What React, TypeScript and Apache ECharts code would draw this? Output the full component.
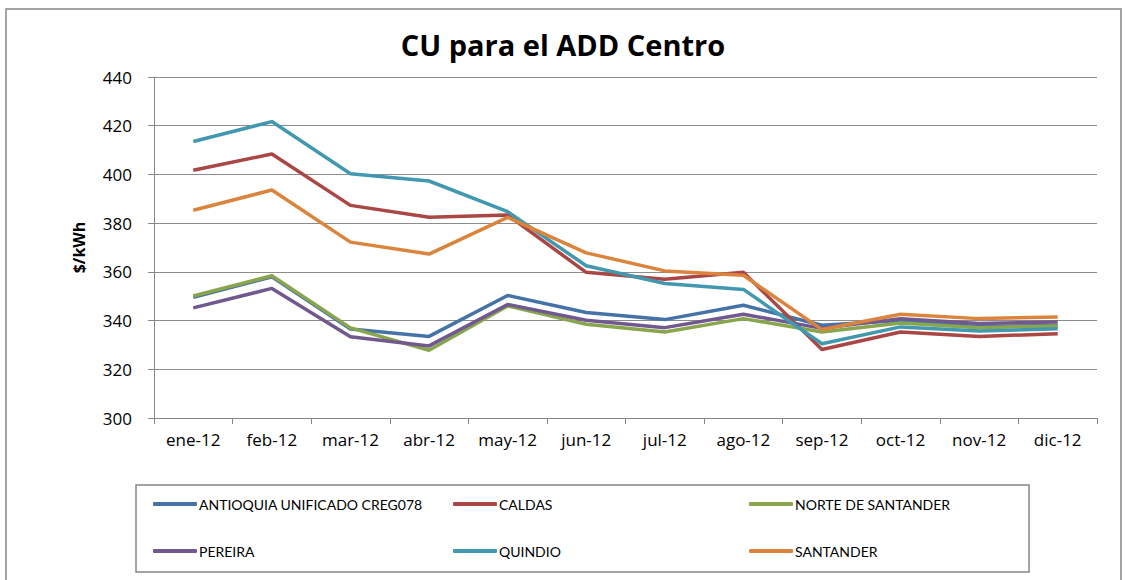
import React, { useEffect, useRef } from "react";
import * as echarts from "echarts";

const categories = ["ene-12", "feb-12", "mar-12", "abr-12", "may-12", "jun-12", "jul-12", "ago-12", "sep-12", "oct-12", "nov-12", "dic-12"];
const antioquia = [349.5, 358, 336.5, 333.5, 350.3, 343.3, 340.4, 346.3, 338.1, 340, 337.5, 338];
const caldas = [401.7, 408.4, 387.3, 382.4, 383.3, 359.8, 357, 359.8, 328.1, 335.3, 333.5, 334.6];
const norteSantander = [350.1, 358.4, 337, 327.8, 346, 338.5, 335.3, 340.8, 335.3, 339, 337.1, 337.8];
const pereira = [345.2, 353.2, 333.4, 329.6, 346.6, 340.1, 337.1, 342.6, 336.8, 340.8, 338.8, 339.4];
const quindio = [413.5, 421.7, 400.3, 397.3, 384.7, 362.5, 355.2, 352.8, 330.5, 337.4, 335.7, 336.6];
const santander = [385.3, 393.6, 372.2, 367.3, 382.4, 367.8, 360.4, 358.6, 336.3, 342.6, 340.8, 341.5];

const seriesNames = ["ANTIOQUIA UNIFICADO CREG078", "CALDAS", "NORTE DE SANTANDER", "PEREIRA", "QUINDIO", "SANTANDER"];
const seriesData = [antioquia, caldas, norteSantander, pereira, quindio, santander];
const colors = ["#4572A7", "#AA4643", "#89A54E", "#71588F", "#4198AF", "#DB843D"];

const FONT = "'Open Sans', sans-serif";
const LEGEND_FONT = "Lato, sans-serif";

export default function App() {
  const ref = useRef<HTMLDivElement>(null);
  useEffect(() => {
    if (!ref.current) return;
    const chart = echarts.init(ref.current, null, { renderer: "svg" });
    const legendBase = {
      orient: "vertical" as const,
      top: 491,
      itemWidth: 44,
      itemHeight: 4,
      itemGap: 31,
      icon: "roundRect",
      textStyle: { fontFamily: LEGEND_FONT, fontSize: 14, color: "#000", padding: [0, 0, 0, -3], lineHeight: 16 },
    };
    chart.setOption({
      animation: false,
      color: colors,
      title: {
        text: "CU para el ADD Centro",
        left: "center",
        top: 25,
        textStyle: { fontFamily: FONT, fontSize: 29, fontWeight: "bold", color: "#000" },
      },
      graphic: [
        { type: "rect", shape: { x: 6, y: 9, width: 1115, height: 620 }, style: { fill: "none", stroke: "#878787", lineWidth: 1.5 }, z: -1 },
        { type: "rect", shape: { x: 136, y: 485, width: 893, height: 87 }, style: { fill: "none", stroke: "#878787", lineWidth: 1.5 }, z: -1 },
      ],
      legend: [
        { ...legendBase, left: 148, data: [seriesNames[0], seriesNames[3]] },
        { ...legendBase, left: 448, data: [seriesNames[1], seriesNames[4]] },
        { ...legendBase, left: 744, data: [seriesNames[2], seriesNames[5]] },
      ],
      grid: { left: 154, right: 29, top: 77, bottom: 162, containLabel: false },
      xAxis: {
        type: "category",
        data: categories,
        boundaryGap: true,
        axisLine: { lineStyle: { color: "#868686", width: 1 } },
        axisTick: { show: true, length: 6, lineStyle: { color: "#868686" } },
        axisLabel: { fontFamily: FONT, fontSize: 17, color: "#000", margin: 13, interval: 0 },
      },
      yAxis: {
        type: "value",
        min: 300,
        max: 440,
        interval: 20,
        name: "$/kWh",
        nameLocation: "middle",
        nameRotate: 90,
        nameGap: 67,
        nameTextStyle: { fontFamily: FONT, fontSize: 16, fontWeight: "bold", color: "#000" },
        axisLine: { show: true, lineStyle: { color: "#868686", width: 1 } },
        axisTick: { show: true, length: 6, lineStyle: { color: "#868686" } },
        axisLabel: { fontFamily: FONT, fontSize: 17, color: "#000", margin: 22 },
        splitLine: { lineStyle: { color: "#8c8c8c", width: 1 } },
      },
      series: seriesNames.map((name, i) => ({
        name,
        type: "line",
        data: seriesData[i],
        symbol: "none",
        lineStyle: { width: 3.5, color: colors[i] },
        itemStyle: { color: colors[i] },
      })),
    });
    return () => chart.dispose();
  }, []);
  return <div ref={ref} style={{ position: "fixed", left: 0, top: 0, width: 1126, height: 580, background: "#fff" }} />;
}
